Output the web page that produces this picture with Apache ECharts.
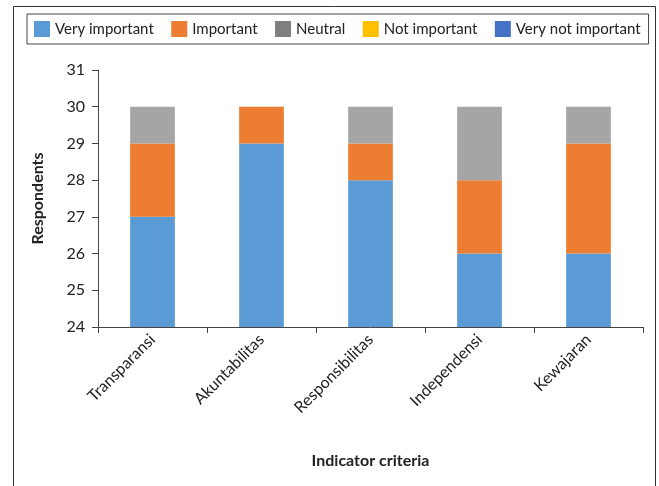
<!DOCTYPE html>
<html>
<head>
<meta charset="utf-8">
<script src="https://cdn.jsdelivr.net/npm/echarts@6/dist/echarts.min.js"></script>
<style>
  html, body { margin: 0; padding: 0; background: #fff; }
  #chart { width: 659px; height: 486px; }
</style>
</head>
<body>
<div id="chart"></div>
<script>
// Survey responses per governance indicator (stacked counts)
const categories = ['Transparansi', 'Akuntabilitas', 'Responsibilitas', 'Independensi', 'Kewajaran'];
const seriesNames = ['Very important', 'Important', 'Neutral', 'Not important', 'Very not important'];
const veryImportant = [27, 29, 28, 26, 26];
const important = [2, 1, 1, 2, 3];
const neutral = [1, 0, 1, 2, 1];
const notImportant = [0, 0, 0, 0, 0];
const veryNotImportant = [0, 0, 0, 0, 0];
const yTicks = [24, 25, 26, 27, 28, 29, 30, 31];

const seriesValues = [veryImportant, important, neutral, notImportant, veryNotImportant];
const barColors = ['#5B9BD5', '#ED7D31', '#A5A5A5', '#FFC000', '#4472C4'];
const legendColors = ['#5B9BD5', '#ED7D31', '#7F7F7F', '#FFC000', '#4472C4'];

const font = 'Lato, "Open Sans", sans-serif';

const chart = echarts.init(document.getElementById('chart'));
chart.setOption({
  animation: false,
  textStyle: { fontFamily: font },
  graphic: [{
    type: 'rect',
    shape: { x: 13.5, y: 6.5, width: 642, height: 500 },
    style: { fill: 'none', stroke: '#333', lineWidth: 1 },
    silent: true
  }],
  legend: {
    left: 27, top: 14,
    padding: [7, 8, 7, 7],
    itemGap: 17.5,
    itemWidth: 16, itemHeight: 16,
    borderColor: '#444', borderWidth: 1,
    icon: 'rect',
    textStyle: { fontSize: 15, color: '#222', fontFamily: font },
    data: seriesNames.map((n, i) => ({ name: n, itemStyle: { color: legendColors[i] } }))
  },
  grid: { left: 98, right: 16, top: 70, bottom: 159 },
  xAxis: {
    type: 'category',
    data: categories,
    boundaryGap: true,
    name: 'Indicator criteria',
    nameLocation: 'middle',
    nameGap: 126,
    nameTextStyle: { fontSize: 16, fontWeight: 'bold', color: '#222', fontFamily: font },
    axisLine: { lineStyle: { color: '#444', width: 1 } },
    axisTick: { show: true, length: 6, lineStyle: { color: '#444' } },
    axisLabel: { rotate: 45, fontSize: 16, color: '#222', margin: 10, interval: 0 }
  },
  yAxis: {
    type: 'value',
    min: yTicks[0], max: yTicks[yTicks.length - 1], interval: 1,
    name: 'Respondents',
    nameLocation: 'middle',
    nameRotate: 90,
    nameGap: 52,
    nameTextStyle: { fontSize: 16, fontWeight: 'bold', color: '#222', fontFamily: font },
    axisLine: { show: true, lineStyle: { color: '#444', width: 1 } },
    axisTick: { show: true, length: 6, lineStyle: { color: '#444' } },
    axisLabel: { fontSize: 16, color: '#222', margin: 13 },
    splitLine: { show: false }
  },
  series: seriesNames.map((n, i) => ({
    name: n,
    type: 'bar',
    stack: 'total',
    barWidth: '41%',
    itemStyle: { color: barColors[i] },
    data: seriesValues[i]
  }))
});
</script>
</body>
</html>
